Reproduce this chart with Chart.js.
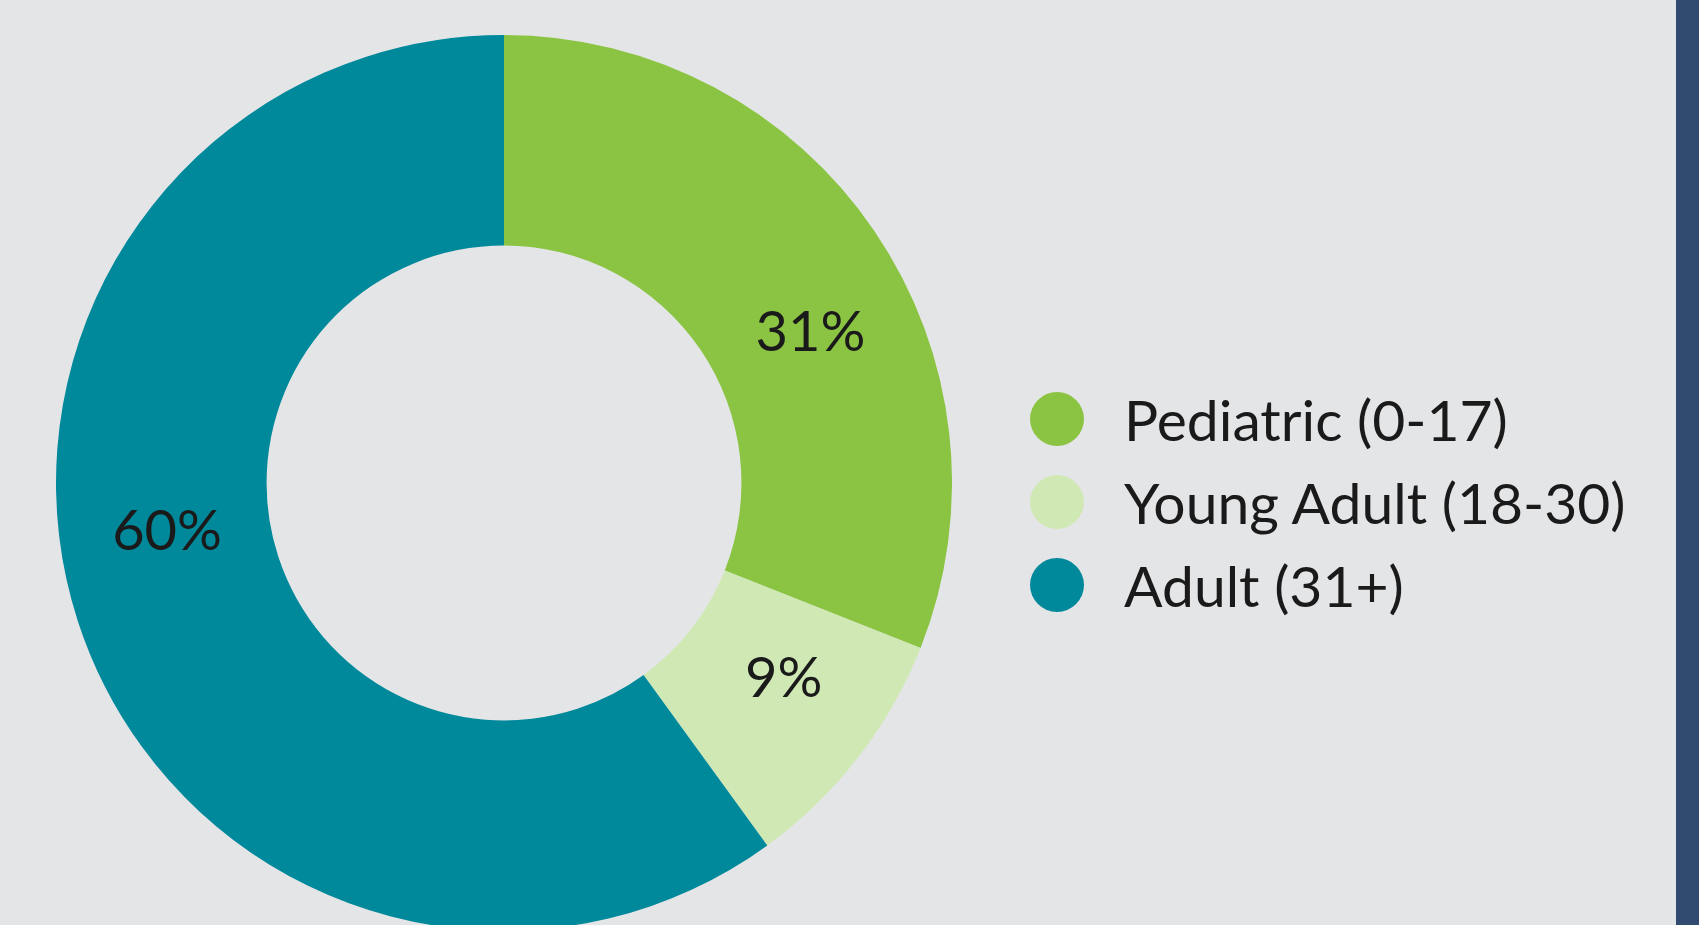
<!DOCTYPE html>
<html>
<head>
<meta charset="utf-8">
<script src="https://cdn.jsdelivr.net/npm/chart.js@4"></script>
<style>
  html, body { margin: 0; padding: 0; width: 1699px; height: 925px; overflow: hidden; background: #e4e5e7; font-family: Lato, sans-serif; }
  #chart-wrap { position: absolute; left: 56px; top: 31px; width: 896px; height: 904px; }
  #side-bar { position: absolute; left: 1676px; top: 0; width: 23px; height: 925px; background: #304a70; }
  #legend { position: absolute; left: 1030px; top: 377px; }
  .legend-row { display: flex; align-items: center; height: 83px; }
  .legend-dot { width: 54px; height: 54px; border-radius: 50%; margin-right: 40px; }
  .legend-text { font-size: 57px; color: #1a1a1a; white-space: nowrap; }
</style>
</head>
<body>
<div id="chart-wrap"><canvas id="age-chart"></canvas></div>
<div id="legend"></div>
<div id="side-bar"></div>
<script>
// ── DATA ──────────────────────────────────────────────────────────
const labels = ['Pediatric (0-17)', 'Young Adult (18-30)', 'Adult (31+)'];
const shares = [31, 9, 60];
const colors = ['#8bc443', '#d0e9b4', '#00889b'];

// small nudges so the % text sits where the original artwork put it
const labelNudge = [[23, 43], [9, -14], [-11, -57]];

// ── SLICE LABELS (drawn at each arc's centre) ─────────────────────
const sliceLabels = {
  id: 'sliceLabels',
  afterDatasetsDraw(chart) {
    const { ctx } = chart;
    const meta = chart.getDatasetMeta(0);
    ctx.save();
    ctx.font = '56px Lato, sans-serif';
    ctx.fillStyle = '#1a1a1a';
    ctx.textAlign = 'center';
    ctx.textBaseline = 'middle';
    meta.data.forEach((arc, i) => {
      const p = arc.tooltipPosition();
      ctx.fillText(`${shares[i]}%`, p.x + labelNudge[i][0], p.y + labelNudge[i][1]);
    });
    ctx.restore();
  },
};

new Chart(document.getElementById('age-chart'), {
  type: 'doughnut',
  data: {
    labels: labels,
    datasets: [{
      data: shares,
      backgroundColor: colors,
      borderWidth: 0,
    }],
  },
  options: {
    responsive: true,
    maintainAspectRatio: false,
    animation: false,
    cutout: '53%',
    layout: { padding: 0 },
    plugins: {
      legend: { display: false },
      tooltip: { enabled: false },
    },
  },
  plugins: [sliceLabels],
});

// ── LEGEND ────────────────────────────────────────────────────────
document.getElementById('legend').innerHTML = labels.map((l, i) => `
  <div class="legend-row">
    <div class="legend-dot" style="background:${colors[i]};"></div>
    <div class="legend-text">${l}</div>
  </div>
`).join('');
</script>
</body>
</html>
